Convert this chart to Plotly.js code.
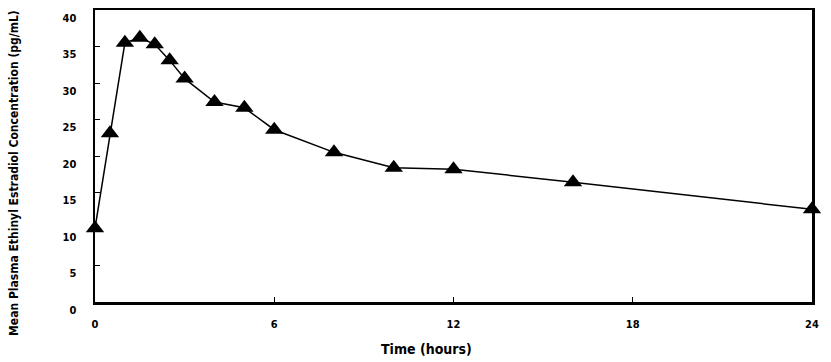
<!DOCTYPE html>
<html>
<head>
<meta charset="utf-8">
<script src="https://cdn.plot.ly/plotly-3.0.1.min.js"></script>
<style>html,body{margin:0;padding:0;background:#fff;}#chart{width:831px;height:362px;}</style>
</head>
<body>
<div id="chart"></div>
<script>
const timeHours = [0, 0.5, 1, 1.5, 2, 2.5, 3, 4, 5, 6, 8, 10, 12, 16, 24];
const meanConc = [10.1, 23.1, 35.5, 36.2, 35.3, 33.1, 30.6, 27.4, 26.6, 23.6, 20.5, 18.4, 18.2, 16.4, 12.7];
const xTicks = [0, 6, 12, 18, 24];
const yTicks = [0, 5, 10, 15, 20, 25, 30, 35, 40];
const xTitle = 'Time (hours)';
const yTitle = 'Mean Plasma Ethinyl Estradiol Concentration (pg/mL)';

const fontFam = '"DejaVu Sans Condensed", "Liberation Sans", Arial, sans-serif';

const trace = {
  x: timeHours,
  y: meanConc,
  type: 'scatter',
  mode: 'lines+markers',
  line: {color: '#000', width: 1.5},
  marker: {symbol: 'triangle-up', size: 16, color: '#000'},
  cliponaxis: false,
  showlegend: false,
  hoverinfo: 'x+y'
};

const layout = {
  width: 831,
  height: 362,
  margin: {l: 95, r: 19, t: 10, b: 60},
  paper_bgcolor: '#fff',
  plot_bgcolor: '#fff',
  font: {family: fontFam, color: '#000'},
  xaxis: {
    range: [0, 24],
    tickvals: xTicks,
    ticktext: xTicks.map(String),
    ticks: 'inside',
    ticklen: 5,
    tickwidth: 1,
    tickcolor: '#000',
    showline: true,
    linewidth: 2.5,
    linecolor: '#000',
    mirror: true,
    showgrid: false,
    zeroline: false,
    ticklabelstandoff: 10,
    tickfont: {family: fontFam, size: 11, color: '#000', weight: 'bold'}
  },
  yaxis: {
    range: [0, 40],
    tickvals: yTicks,
    ticktext: yTicks.map(String),
    ticks: 'inside',
    ticklen: 5,
    tickwidth: 1,
    tickcolor: '#000',
    showline: true,
    linewidth: 2.5,
    linecolor: '#000',
    mirror: true,
    showgrid: false,
    zeroline: false,
    ticklabelstandoff: 14,
    ticklabelshift: 8,
    tickfont: {family: fontFam, size: 11, color: '#000', weight: 'bold'}
  },
  annotations: [
    {text: xTitle, xref: 'paper', yref: 'paper', x: 0.463, y: -0.161, xanchor: 'center', yanchor: 'middle',
     showarrow: false, font: {family: fontFam, size: 14, color: '#000', weight: 'bold'}},
    {text: yTitle, xref: 'paper', yref: 'paper', x: -0.113, y: 0.442, xanchor: 'center', yanchor: 'middle',
     textangle: -90, showarrow: false, font: {family: fontFam, size: 12, color: '#000', weight: 'bold'}}
  ]
};

Plotly.newPlot('chart', [trace], layout, {displayModeBar: false, staticPlot: true});
</script>
</body>
</html>
